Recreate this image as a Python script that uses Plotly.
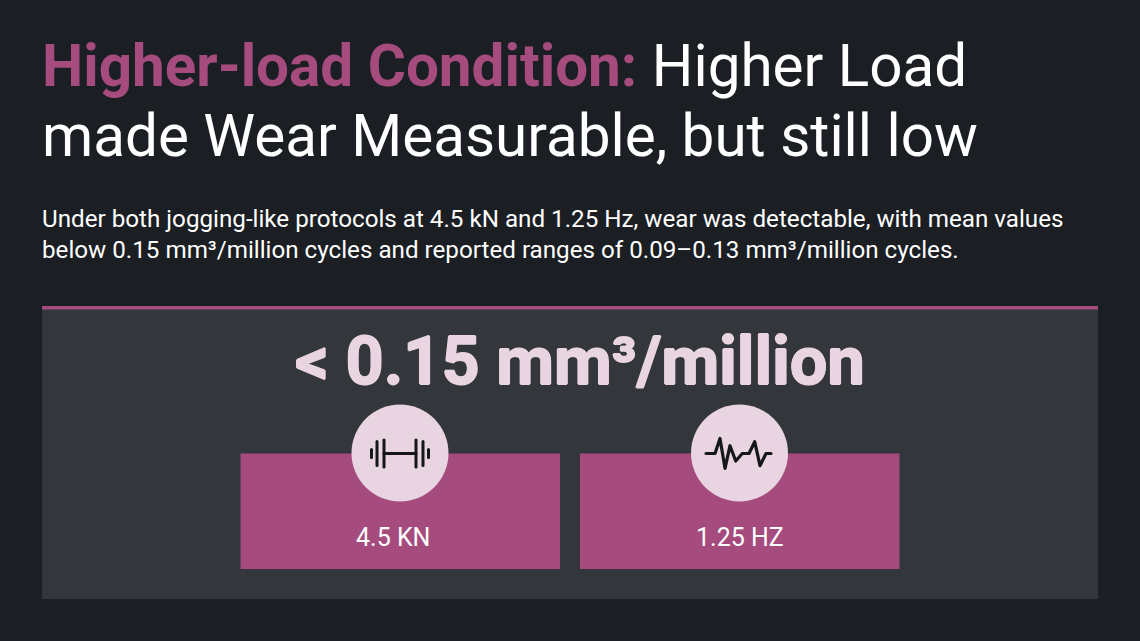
import plotly.graph_objects as go

BG = "#1b1e23"
PANEL = "#33363b"
ACCENT = "#a54b7e"
LIGHT = "#e9d5e1"
INK = "#15171b"

title_lines = ["<b style='color:#a54b7e'>Higher-load Condition:</b> Higher Load",
               "made Wear Measurable, but still low"]
body_lines = ["Under both jogging-like protocols at 4.5 kN and 1.25 Hz, wear was detectable, with mean values",
              "below 0.15 mm³/million cycles and reported ranges of 0.09–0.13 mm³/million cycles."]
headline = "< 0.15 mm³/million"
card_labels = ["4.5 KN", "1.25 HZ"]
label_x = [393, 739.5]
card_left = [240.5, 580]
card_width = 319.5
circle_x = [400, 739.5]

# icon outlines, offsets from the circle centre
barbell_bars = [(-28.5, 4), (-23, 12), (-16, 13.5), (16, 13.5), (23, 12), (28.5, 4)]
pulse_x = [-33.5, -24.5, -19.5, -14.5, -9.5, -3.8, 2.8, 9.5, 15.2, 20.5, 26.5, 31.5]
pulse_y = [0, 0, -15, 14.8, -7.8, 7.5, 0, 0, -11.8, 12.2, 0, 0]


def add_text(fig, x, y, text, size, color="#ffffff", anchor="left", shadow="none"):
    fig.add_annotation(x=x, y=y, text=text, showarrow=False, xanchor=anchor, yanchor="middle",
                       align=anchor, font=dict(family="Roboto", size=size, color=color, shadow=shadow))


fig = go.Figure()

# panel
fig.add_shape(type="rect", x0=42, x1=1098, y0=306, y1=599, fillcolor=PANEL, line_width=0, layer="below")
fig.add_shape(type="rect", x0=42, x1=1098, y0=306, y1=309.5, fillcolor=ACCENT, line_width=0, layer="below")

for i in range(len(card_labels)):
    fig.add_shape(type="rect", x0=card_left[i], x1=card_left[i] + card_width, y0=453.5, y1=569,
                  fillcolor=ACCENT, line_width=0, layer="below")
    fig.add_shape(type="circle", x0=circle_x[i] - 48.5, x1=circle_x[i] + 48.5, y0=404.5, y1=501.5,
                  fillcolor=LIGHT, line_width=0, layer="below")
    add_text(fig, label_x[i], 537, card_labels[i], 25, anchor="center")

# barbell icon
cx, cy = circle_x[0], 453.5
fig.add_shape(type="line", x0=cx - 16, x1=cx + 16, y0=cy, y1=cy, line=dict(color=INK, width=3))
for dx, half in barbell_bars:
    fig.add_shape(type="line", x0=cx + dx, x1=cx + dx, y0=cy - half, y1=cy + half,
                  line=dict(color=INK, width=3))

# pulse icon
cx = circle_x[1]
path = "M " + " L ".join(f"{cx + dx},{cy + dy}" for dx, dy in zip(pulse_x, pulse_y))
fig.add_shape(type="path", path=path, line=dict(color=INK, width=3.2))

add_text(fig, 40, 66, title_lines[0], 58.4)
add_text(fig, 40, 136, title_lines[1], 58.4)
add_text(fig, 40, 219, body_lines[0], 24.2)
add_text(fig, 40, 250, body_lines[1], 24.2)
# no Black weight installed, thicken the bold with a tight shadow
thick = ",".join(f"{dx}px {dy}px 0 {LIGHT}" for dx, dy in [(0.8, 0), (-0.8, 0), (0, 0.8), (0, -0.8)])
add_text(fig, 579.5, 361, "<b>" + headline + "</b>", 66.7, color=LIGHT, anchor="center", shadow=thick)

fig.update_xaxes(visible=False, range=[0, 1140], fixedrange=True)
fig.update_yaxes(visible=False, range=[641, 0], fixedrange=True)
fig.update_layout(width=1140, height=641, margin=dict(l=0, r=0, t=0, b=0),
                  paper_bgcolor=BG, plot_bgcolor=BG, showlegend=False)

# round ends on the icon strokes, as plotly has no shape option for it
round_js = ("document.querySelectorAll('.shapelayer path').forEach(function(p){"
            "p.style.strokeLinecap='round';p.style.strokeLinejoin='round';});")
fig.write_html("out.html", config={"displayModeBar": False},
               post_script="document.body.style.margin='0';document.body.style.background='%s';" % BG + round_js)
